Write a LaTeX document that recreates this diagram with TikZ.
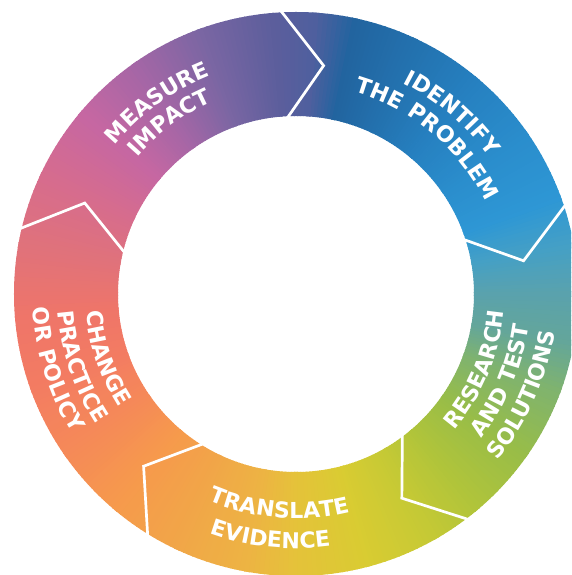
\documentclass[tikz,border=0pt]{standalone}
\usepackage{fontspec}
\usetikzlibrary{decorations.text}

\newfontfamily\ringfont{DejaVu Sans Bold}[LetterSpace=3]
\newcommand\steplabel{\ringfont\fontsize{22}{23}\selectfont}

\begin{document}
\begin{tikzpicture}[
  x=1pt,y=1pt,
  cut/.style={white,line width=2.7pt,line join=miter},
  ringtext/.style={decorate,decoration={text along path,text align=center,text color=white,text={|\steplabel|#1}}}
]
\useasboundingbox (-296,-281) rectangle (275,294);
\clip (-296,-281) rectangle (275,294);

% ring, shaded around the circle in thin wedges
\begin{scope}[even odd rule]
  \clip (0,0) circle[radius=282] (0,0) circle[radius=178];
  \foreach \b/\cb [remember=\b as \a (initially 0), remember=\cb as \ca (initially 5AA2AD)] in
    {10/45A0C5, 20/2E97D5, 35/2A8DCC, 50/2680C0, 65/2371AE, 78/22649F, 86/4F5F9E,
     95/5C5E9C, 110/7A66A3, 125/A466A6, 140/C667A2, 155/D66C8E, 170/E0727B,
     185/EF7569, 200/F37C62, 215/F58A58, 230/F69A4C, 245/F1A648, 260/EDB443,
     270/E5C23A, 285/D9CC32, 300/C4C935, 310/B1C43A, 325/98BD48, 340/7FB36F,
     350/64A69A, 360/5AA2AD}{
    \definecolor{lo}{HTML}{\ca}
    \definecolor{hi}{HTML}{\cb}
    \foreach \t in {\a,...,\b}{
      \pgfmathsetmacro\p{100*(\b-\t)/(\b-\a)}
      \fill[lo!\p!hi] (0,0) -- ({\t-0.6}:300) -- ({\t+0.6}:300) -- cycle;
    }
  }
\end{scope}

% white chevrons between the five steps
\foreach \ang in {93.4,18.6,-52.3,-121.2,167}
  \draw[cut] (\ang:286) -- ({\ang-10.3}:230) -- (\ang:174);

% labels, top ones read clockwise
\path[ringtext=MEASURE] (161:234.5) arc[start angle=161,end angle=91,radius=234.5];
\path[ringtext=IMPACT] (161.4:209.5) arc[start angle=161.4,end angle=91.4,radius=209.5];
\path[ringtext=IDENTIFY] (84.3:236.5) arc[start angle=84.3,end angle=14.3,radius=236.5];
\path[ringtext=THE PROBLEM] (84.9:210.5) arc[start angle=84.9,end angle=14.9,radius=210.5];

% the others read counter-clockwise
\path[ringtext=RESEARCH] (-57.7:208.5) arc[start angle=-57.7,end angle=12.3,radius=208.5];
\path[ringtext=AND TEST] (-57.8:235) arc[start angle=-57.8,end angle=12.2,radius=235];
\path[ringtext=SOLUTIONS] (-59:261.5) arc[start angle=-59,end angle=11,radius=261.5];
\path[ringtext=TRANSLATE] (-129.5:224.5) arc[start angle=-129.5,end angle=-59.5,radius=224.5];
\path[ringtext=EVIDENCE] (-131:254.5) arc[start angle=-131,end angle=-61,radius=254.5];
\path[ringtext=CHANGE] (163.7:210.5) arc[start angle=163.7,end angle=233.7,radius=210.5];
\path[ringtext=PRACTICE] (163.6:238.5) arc[start angle=163.6,end angle=233.6,radius=238.5];
\path[ringtext=OR POLICY] (162.4:263.5) arc[start angle=162.4,end angle=232.4,radius=263.5];
\end{tikzpicture}
\end{document}
